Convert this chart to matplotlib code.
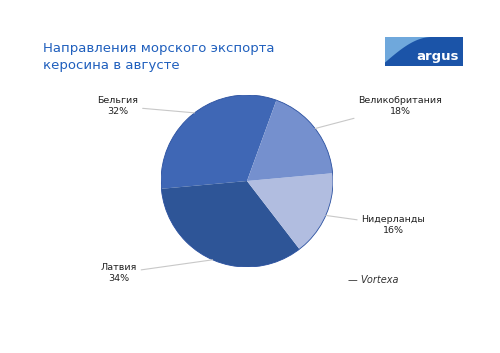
import matplotlib.pyplot as plt
import matplotlib.patches as mpatches
import numpy as np

countries = ['Бельгия', 'Латвия', 'Нидерланды', 'Великобритания']
shares = [32, 34, 16, 18]
colors = ['#3f67b5', '#2e5597', '#b1bde0', '#7590ce']
# label offsets in pie-radius units
label_pos = [(-1.50, 0.87), (-1.49, -1.07), (1.70, -0.51), (1.78, 0.87)]

W, H = 500, 353
fig = plt.figure(figsize=(5, 3.53), dpi=100)
fig.patch.set_facecolor('white')

cx, cy, r = 247, 181, 86
ax = fig.add_axes([(cx - r) / W, (H - cy - r) / H, 2 * r / W, 2 * r / H])
wedges, _ = ax.pie(shares, colors=colors, startangle=70, counterclock=True,
                   radius=1, wedgeprops=dict(linewidth=0))
ax.add_patch(mpatches.Circle((0, 0), 1, fill=False, ec='#2a50a0', lw=0.6))
ax.set_xlim(-1, 1)
ax.set_ylim(-1, 1)
ax.set_aspect('equal')
ax.axis('off')

for w, name, val, pos in zip(wedges, countries, shares, label_pos):
    ang = np.deg2rad((w.theta1 + w.theta2) / 2)
    ax.annotate(f'{name}\n{val}%', xy=(np.cos(ang), np.sin(ang)), xytext=pos,
                ha='center', va='center', fontsize=6.8, color='#222222',
                linespacing=1.25, annotation_clip=False,
                arrowprops=dict(arrowstyle='-', color='#c8c8c8', lw=0.8,
                                shrinkA=1, shrinkB=0))

fig.text(43 / W, 1 - 42 / H, 'Направления морского экспорта\nкеросина в августе',
         ha='left', va='top', fontsize=9.5, color='#1f5fbd', linespacing=1.45)

# argus logo
lx0, ly0, lx1, ly1 = 385, 37, 463, 66
lax = fig.add_axes([lx0 / W, 1 - ly1 / H, (lx1 - lx0) / W, (ly1 - ly0) / H])
lax.set_xlim(0, 1)
lax.set_ylim(0, 1)
lax.axis('off')
lax.add_patch(mpatches.Rectangle((0, 0), 1, 1, color='#1b54a8'))
t = np.linspace(0, 1, 50)
curve_x = 0.6 * t
curve_y = 0.12 + 0.88 * np.sin(t * np.pi / 2)
poly = np.column_stack([np.concatenate([[0], curve_x, [0]]),
                        np.concatenate([[0.12], curve_y, [1]])])
lax.add_patch(mpatches.Polygon(poly, closed=True, color='#6fa8dc', lw=0))
lax.text(0.95, 0.32, 'argus', ha='right', va='center', color='white',
         fontsize=9.5, fontweight='bold')

fig.text(348 / W, 1 - 280 / H, '— Vortexa', ha='left', va='center',
         fontsize=7, style='italic', color='#333333')

fig.savefig('out.png', dpi=100, facecolor='white')
